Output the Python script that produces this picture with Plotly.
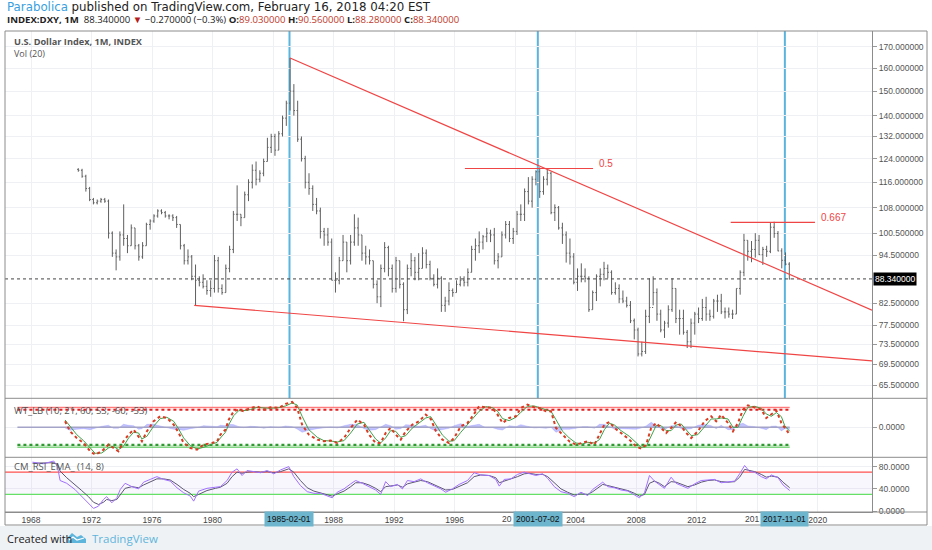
import numpy as np
import plotly.graph_objects as go

# ---- U.S. Dollar Index, quarterly bars (1971 Q1 .. 2018 Q1) ----
price_start = 1971.125
price_high = [
    120.7, 120.5, 118.5, 114.5,   # 1971
    111, 110.5, 111, 111,         # 1972
    110.5, 101, 96, 101,          # 1973
    109, 100, 103, 102,           # 1974
    97.5, 98, 103.5, 104.5,       # 1975
    106, 107.5, 107.5, 107,       # 1976
    106, 106, 105.5, 103,         # 1977
    97.5, 96, 94.5, 92,           # 1978
    89, 89.5, 88, 88,             # 1979
    94.5, 94, 87, 92,             # 1980
    97, 107, 115, 106,            # 1981
    113, 117, 122, 123,           # 1982
    120, 124, 131.5, 133,         # 1983
    133, 134, 140, 146,           # 1984
    164.7, 153, 146, 132,         # 1985
    125, 119, 115, 111,           # 1986
    108, 102, 102, 99,            # 1987
    90, 94, 100, 98,              # 1988
    100, 106, 105, 100,           # 1989
    97, 96, 93, 88,               # 1990
    92, 98, 97, 92,               # 1991
    94, 93, 87.5, 92,             # 1992
    95, 94, 95, 96.6,             # 1993
    96, 93, 89.5, 91,             # 1994
    89, 84, 87.5, 86,             # 1995
    88, 89, 89, 91,               # 1996
    97, 99, 101, 100,             # 1997
    102, 101.5, 102, 95,          # 1998
    101, 104, 104, 102,           # 1999
    107, 109, 114, 117.7,         # 2000
    118, 120, 121, 118,           # 2001
    120.7, 119.5, 109, 108.5,     # 2002
    103.5, 101, 99, 95,           # 2003
    91, 92.3, 91, 89,             # 2004
    85.5, 89.5, 91, 92.7,         # 2005
    92, 90.5, 87.5, 87,           # 2006
    85.5, 84, 83, 79,             # 2007
    77, 74, 81, 88.5,             # 2008
    89, 86, 81, 78.5,             # 2009
    82, 88.5, 86, 81,             # 2010
    81, 76.5, 79, 80.5,           # 2011
    81.5, 83.5, 84, 81,           # 2012
    83.5, 84.5, 84.7, 81.5,       # 2013
    81.5, 81, 86, 90.5,           # 2014
    100.3, 98.5, 98.3, 100.5,     # 2015
    100, 96.7, 97, 103.5,         # 2016
    103.8, 101.1, 96.3, 95.2,     # 2017
    92.6,                         # 2018
]
price_low = [
    119.5, 117.5, 113, 110,
    109, 109, 109.5, 109.5,
    99, 94, 90.5, 93,
    97, 95, 97, 96,
    93, 93.5, 97, 101.5,
    103.5, 105, 106, 105,
    104.5, 104, 102, 96,
    92, 92, 88, 82,
    86.5, 86, 84.5, 84,
    85, 85, 84.5, 85,
    90, 95, 104, 102.5,
    105, 110, 114, 115,
    116, 118, 123, 126,
    125, 127, 132, 136,
    142, 140, 130, 123,
    114, 112, 107, 106,
    99, 97, 97, 88,
    85, 87, 93, 90,
    92, 97, 97, 93,
    92, 92, 86, 82.5,
    81.6, 90, 89, 85,
    85, 86, 78.4, 80,
    89, 88, 88, 91,
    91, 88, 86.5, 86,
    80.5, 80.5, 82, 84,
    85, 86.5, 86.5, 86.5,
    90, 93, 95, 96,
    98, 98, 92, 91,
    94, 99, 98, 97.5,
    100, 104, 104, 109,
    108, 115, 111, 112,
    115, 106, 104, 101.5,
    97.5, 92.5, 92, 87,
    85.4, 87.5, 87.5, 80.5,
    81, 83, 86.5, 88,
    88.5, 84.5, 84.5, 82.5,
    82.5, 81.5, 78, 74.5,
    71, 71, 71.5, 78,
    82, 78.5, 76, 74.8,
    77, 80.5, 78, 75.5,
    75.5, 72.7, 72.7, 75.5,
    78, 78.5, 78.5, 78.5,
    79, 80.5, 80, 79,
    79.2, 78.9, 80, 84.5,
    89, 93, 92.6, 93.8,
    94.5, 91.9, 94, 95,
    99.2, 95.5, 91, 91.8,
    88.2,
]
price_close = [
    120, 118, 114, 110.5,
    109.5, 110, 110.5, 110,
    100.5, 95, 94, 100,
    99, 97, 102, 97,
    94, 97, 103, 104,
    105.5, 107, 106.5, 105.5,
    105.5, 105, 103, 97,
    93, 94, 89, 88,
    87.5, 86.5, 85.5, 86,
    93, 86, 85, 91,
    96, 106, 106, 105,
    112, 116, 120, 117,
    119, 123, 128, 132,
    127, 133, 139, 145,
    150, 142, 131, 124,
    116, 114, 109, 107,
    101, 100, 98, 88,
    88, 93, 98, 93,
    98, 102, 100, 95,
    94, 93, 87, 84,
    91, 96.5, 91, 86,
    93, 87, 81, 91,
    93, 90, 91, 95,
    92, 88.5, 87, 88.5,
    82, 83, 85.5, 85,
    87, 88, 87.5, 90,
    96, 97, 98, 99.5,
    100.5, 100, 93, 94,
    100, 103, 99, 101,
    106, 106, 113, 110,
    117, 119.5, 113, 117,
    119, 106.5, 108, 102,
    100, 95, 94, 87.5,
    89, 89, 88.5, 81,
    85, 89, 89.5, 91,
    90, 85, 86, 83.5,
    83, 82, 78.5, 76.5,
    71.5, 72, 79.5, 81.5,
    85, 80, 76.5, 78,
    81, 86, 79, 79,
    76, 74, 78, 80,
    79, 81.5, 80, 79.5,
    83, 83, 80.5, 80.5,
    80, 80, 86, 90,
    98.5, 95.5, 96, 98.5,
    94.6, 96, 95.5, 102.2,
    100.4, 95.6, 93.1, 92.1,
    88.34,
]
first_open = 120.3
last_price = 88.34

price_ticks = [170, 160, 150, 140, 132, 124, 116, 108, 100.5, 94.5, 82.5, 77.5, 73.5, 69.5, 65.5]
year_ticks = list(range(1968, 2021, 4))
hidden_years = [1984]                      # fully under a date box
partial_years = {2000: '20', 2016: '201'}  # half under a date box

# drawings on the price pane
trend_upper_x = [1985.12, 2023.59]
trend_upper_y = [164.7, 80.9]
trend_lower_x = [1978.79, 2023.59]
trend_lower_y = [82.0, 70.1]
fib_half_x = [1996.68, 2005.15]
fib_half_y = 120.6
fib_two_thirds_x = [2014.25, 2019.82]
fib_two_thirds_y = 103.6
cycle_labels = ['1985-02-01', '2001-07-02', '2017-11-01']
cycle_x = [1985.085, 2001.5, 2017.83]

# ---- WT_LB pane ----
wt_years = [
    1970.25, 1970.58, 1971.02, 1971.47, 1971.91, 1972.24, 1972.68, 1973.12, 1973.45, 1973.78,
    1974.11, 1974.45, 1974.78, 1975.11, 1975.33, 1975.66, 1976.10, 1976.54, 1976.98, 1977.43,
    1977.76, 1978.09, 1978.53, 1978.97, 1979.41, 1979.96, 1980.30, 1980.52, 1980.85, 1981.07,
    1981.40, 1981.73, 1982.06, 1982.50, 1982.94, 1983.39, 1983.83, 1984.38, 1984.82, 1985.26,
    1985.59, 1985.92, 1986.36, 1986.92, 1987.36, 1987.80, 1988.24, 1988.69, 1989.13, 1989.57,
    1990.01, 1990.34, 1990.78, 1991.11, 1991.44, 1991.77, 1992.11, 1992.44, 1992.77, 1993.21,
    1993.65, 1994.09, 1994.42, 1994.75, 1995.19, 1995.63, 1995.97, 1996.41, 1996.85, 1997.18,
    1997.62, 1998.06, 1998.50, 1998.84, 1999.17, 1999.61, 2000.05, 2000.38, 2000.82, 2001.26,
    2001.60, 2002.04, 2002.37, 2002.70, 2003.14, 2003.58, 2004.02, 2004.46, 2004.80, 2005.24,
    2005.57, 2005.90, 2006.23, 2006.56, 2007.00, 2007.55, 2007.99, 2008.33, 2008.66, 2008.99,
    2009.32, 2009.65, 2009.98, 2010.31, 2010.65, 2010.98, 2011.31, 2011.64, 2012.08, 2012.52,
    2012.96, 2013.29, 2013.62, 2014.07, 2014.40, 2014.73, 2015.06, 2015.39, 2015.83, 2016.27,
    2016.60, 2016.94, 2017.27, 2017.60, 2017.82, 2018.15,
]
wt1 = [
    18, -12, -32, -47, -72, -82, -72, -52, -62, -72,
    -42, -22, -7, -27, -42, -12, 18, 33, 28, 8,
    -17, -47, -62, -67, -52, -47, -42, -22, -7, 23,
    48, 53, 48, 58, 63, 53, 60, 58, 70, 76,
    58, 8, -22, -37, -42, -40, -47, -32, -2, 23,
    8, -22, -47, -47, -17, -2, -22, -37, -12, 8,
    18, 38, 25, -10, -37, -47, -32, 3, 13, 33,
    63, 60, 58, 38, 13, 28, 33, 58, 68, 60,
    58, 48, 48, -2, -22, -42, -52, -47, -42, -52,
    -22, 8, 16, -2, -17, -37, -57, -64, -52, -2,
    13, -2, -17, -2, 16, 3, -17, -32, -12, 18,
    33, 18, 38, 13, -12, 13, 53, 66, 60, 53,
    28, 38, 50, 13, -2, -22,
]
wt2 = [
    22, 3, -22, -40, -60, -78, -77, -62, -57, -67,
    -57, -32, -15, -17, -35, -27, 3, 26, 30, 18,
    -5, -32, -55, -65, -60, -50, -45, -32, -15, 8,
    35, 50, 50, 53, 60, 58, 57, 59, 64, 73,
    67, 33, -7, -30, -40, -41, -44, -40, -17, 10,
    15, -7, -35, -47, -32, -10, -12, -30, -25, -2,
    13, 28, 32, 8, -23, -42, -40, -15, 8, 23,
    48, 62, 59, 48, 26, 20, 30, 45, 63, 64,
    59, 53, 48, 23, -12, -32, -47, -50, -45, -47,
    -37, -7, 12, 7, -10, -27, -47, -60, -58, -27,
    5, 5, -10, -10, 7, 10, -7, -25, -22, 3,
    25, 25, 28, 25, 0, 0, 33, 60, 63, 57,
    40, 33, 44, 32, 5, -12,
]
wt_hist = [
    -2, -9, -6, -4, -7, -2, 3, 6, -3, -3,
    9, 6, 5, -6, -4, 9, 9, 4, -1, -6,
    -7, -9, -4, -1, 5, 2, 2, 6, 5, 9,
    8, 2, -1, 3, 2, -3, 2, -1, 4, 2,
    -5, -15, -9, -4, -1, 1, -2, 5, 9, 8,
    -4, -9, -7, 0, 9, 5, -6, -4, 8, 6,
    3, 6, -4, -11, -8, -3, 5, 11, 3, 6,
    9, -1, -1, -6, -8, 5, 2, 8, 3, -2,
    -1, -3, 0, -15, -6, -6, -3, 2, 2, -3,
    9, 9, 2, -5, -4, -6, -6, -2, 4, 15,
    5, -4, -4, 5, 5, -4, -6, -4, 6, 9,
    5, -4, 6, -7, -7, 8, 12, 4, 2, -2,
    -7, 3, 4, -11, -4, -6,
]
wt_span = [1967.1, 2018.15]
wt_ob = [60, 53]
wt_os = [-53, -60]

# ---- CM_RSI_EMA pane ----
rsi_years = [
    1968.1, 1968.8, 1969.5, 1969.75, 1969.92, 1970.36, 1970.9, 1971.35, 1971.8, 1972.13,
    1972.46, 1972.79, 1973.0, 1973.34, 1973.67, 1973.9, 1974.22, 1974.67, 1975.11, 1975.44,
    1975.88, 1976.32, 1976.76, 1977.2, 1977.65, 1978.09, 1978.53, 1978.75, 1979.08, 1979.63,
    1980.19, 1980.52, 1980.96, 1981.29, 1981.62, 1981.95, 1982.28, 1982.72, 1983.17, 1983.61,
    1984.05, 1984.49, 1985.04, 1985.37, 1985.81, 1986.26, 1986.7, 1987.14, 1987.58, 1987.91,
    1988.24, 1988.69, 1989.13, 1989.46, 1989.9, 1990.34, 1990.78, 1991.11, 1991.44, 1991.77,
    1992.22, 1992.55, 1992.88, 1993.32, 1993.76, 1994.2, 1994.64, 1995.09, 1995.41, 1995.85,
    1996.3, 1996.85, 1997.29, 1997.73, 1998.28, 1998.72, 1998.95, 1999.28, 1999.72, 2000.16,
    2000.6, 2000.93, 2001.37, 2001.82, 2002.15, 2002.59, 2003.03, 2003.47, 2003.91, 2004.35,
    2004.8, 2005.13, 2005.46, 2005.79, 2006.12, 2006.56, 2007.0, 2007.45, 2007.89, 2008.22,
    2008.55, 2008.88, 2009.21, 2009.54, 2009.87, 2010.31, 2010.64, 2010.98, 2011.42, 2011.86,
    2012.3, 2012.74, 2013.18, 2013.62, 2014.07, 2014.51, 2014.84, 2015.17, 2015.5, 2015.83,
    2016.27, 2016.6, 2016.94, 2017.38, 2017.71, 2018.15,
]
rsi = [
    88, 85, 90, 80, 55, 50, 39, 27, 15, 5,
    9, 21, 26, 15, 24, 39, 50, 44, 40, 52,
    57, 62, 57, 54, 42, 33, 27, 18, 36, 41,
    43, 44, 55, 70, 76, 64, 73, 71, 69, 73,
    67, 74, 80, 62, 46, 35, 32, 32, 27, 24,
    34, 40, 49, 55, 50, 44, 38, 30, 53, 44,
    48, 40, 55, 53, 58, 51, 45, 40, 34, 40,
    48, 55, 69, 65, 64, 57, 45, 57, 58, 66,
    70, 67, 64, 67, 59, 44, 35, 32, 26, 34,
    28, 39, 46, 52, 44, 42, 38, 36, 29, 24,
    33, 64, 54, 47, 41, 61, 50, 46, 41, 49,
    55, 56, 57, 51, 52, 54, 67, 82, 71, 70,
    62, 58, 65, 60, 47, 37,
]
rsi_ema = [
    86, 86, 87, 84, 72, 60, 48, 37, 26, 16,
    12, 16, 21, 19, 21, 30, 41, 44, 42, 47,
    53, 58, 58, 56, 48, 39, 32, 26, 30, 37,
    41, 43, 50, 62, 70, 68, 70, 71, 70, 71,
    69, 71, 76, 70, 55, 42, 36, 33, 29, 27,
    31, 36, 44, 51, 51, 47, 41, 35, 44, 45,
    47, 43, 49, 52, 55, 53, 48, 43, 38, 39,
    44, 51, 62, 65, 64, 60, 51, 54, 57, 62,
    67, 68, 66, 66, 62, 51, 40, 34, 29, 31,
    30, 35, 42, 48, 46, 43, 40, 37, 32, 27,
    30, 50, 54, 50, 44, 53, 52, 48, 44, 47,
    52, 55, 56, 53, 52, 53, 61, 75, 73, 71,
    66, 61, 63, 61, 52, 42,
]
rsi_upper = 70
rsi_lower = 30

x_range = [1966.28, 2023.59]


# pixel -> paper helpers (plot area is x 5..872, y 31..512)
def px(x):
    return (x - 5) / 867


def py(y):
    return (512 - y) / 481


price_x = [price_start + 0.25 * i for i in range(len(price_close))]
price_open = [first_open] + price_close[:-1]

fig = go.Figure()

# price bars
fig.add_trace(go.Ohlc(
    x=price_x, open=price_open, high=price_high, low=price_low, close=price_close,
    increasing=dict(line=dict(color='#5f5f5f', width=1)),
    decreasing=dict(line=dict(color='#5f5f5f', width=1)),
    tickwidth=0.3, xaxis='x', yaxis='y', hoverinfo='skip',
))

# last price dotted line
fig.add_trace(go.Scatter(x=x_range, y=[last_price, last_price], mode='lines',
                         line=dict(color='#444', width=1, dash='dot'), yaxis='y'))

# trendlines and fib levels
red = '#f04545'
for xs, ys in [(trend_upper_x, trend_upper_y), (trend_lower_x, trend_lower_y),
               (fib_half_x, [fib_half_y] * 2), (fib_two_thirds_x, [fib_two_thirds_y] * 2)]:
    fig.add_trace(go.Scatter(x=xs, y=ys, mode='lines', line=dict(color=red, width=1.2), yaxis='y'))

# WT pane
fig.add_trace(go.Scatter(x=wt_years, y=wt_hist, mode='lines', fill='tozeroy',
                         fillcolor='rgba(120,120,255,0.45)', line=dict(color='rgba(120,120,255,0.5)', width=0.5),
                         yaxis='y2'))
fig.add_trace(go.Scatter(x=wt_span, y=[0, 0], mode='lines', line=dict(color='#a4a4c8', width=1.5), yaxis='y2'))
fig.add_trace(go.Scatter(x=wt_span, y=[wt_ob[0]] * 2, mode='lines', line=dict(color='#ff6060', width=1), yaxis='y2'))
fig.add_trace(go.Scatter(x=wt_span, y=[wt_ob[1]] * 2, mode='lines', fill='tonexty',
                         fillcolor='rgba(255,90,90,0.15)', line=dict(color='#e02020', width=2, dash='dot'), yaxis='y2'))
fig.add_trace(go.Scatter(x=wt_span, y=[wt_os[0]] * 2, mode='lines', line=dict(color='#2f9a2f', width=2.2, dash='dot'), yaxis='y2'))
fig.add_trace(go.Scatter(x=wt_span, y=[wt_os[1]] * 2, mode='lines', fill='tonexty',
                         fillcolor='rgba(60,170,60,0.25)', line=dict(color='#6c6', width=1), yaxis='y2'))
fig.add_trace(go.Scatter(x=wt_years, y=wt2, mode='lines', line=dict(color='#3fa14a', width=1), yaxis='y2'))
fig.add_trace(go.Scatter(x=wt_years, y=wt1, mode='lines', line=dict(color='#d93a22', width=2, dash='dot'), yaxis='y2'))

# RSI pane
fig.add_trace(go.Scatter(x=x_range, y=[rsi_upper] * 2, mode='lines', line=dict(color='#ff5050', width=1.2), yaxis='y3'))
fig.add_trace(go.Scatter(x=x_range, y=[rsi_lower] * 2, mode='lines', fill='tonexty',
                         fillcolor='rgba(160,120,230,0.06)', line=dict(color='#66e066', width=1.2), yaxis='y3'))
fig.add_trace(go.Scatter(x=rsi_years, y=rsi_ema, mode='lines', line=dict(color='#5c5672', width=1), yaxis='y3'))
fig.add_trace(go.Scatter(x=rsi_years, y=rsi, mode='lines', line=dict(color='#a070ff', width=1), yaxis='y3'))

axis_font = dict(family='Liberation Sans', size=8.5, color='#555')
grid = '#eef0f4'
frame = '#8c8c8c'

shapes = []
# cycle lines on price pane (under the bars)
for cx in cycle_x:
    shapes.append(dict(type='line', xref='x', yref='y domain', x0=cx, x1=cx, y0=0, y1=1,
                       line=dict(color='#5ab4dd', width=2), layer='below'))
# pane separators + frame
for yy in [398.3, 457.3]:
    shapes.append(dict(type='line', xref='paper', yref='paper', x0=0, x1=px(927), y0=py(yy), y1=py(yy),
                       line=dict(color=frame, width=1)))
shapes.append(dict(type='line', xref='paper', yref='paper', x0=0, x1=px(927), y0=0, y1=0,
                   line=dict(color=frame, width=1)))
shapes.append(dict(type='rect', xref='paper', yref='paper', x0=0, x1=px(927), y0=py(525), y1=1,
                   line=dict(color=frame, width=1)))
# footer background
shapes.append(dict(type='rect', xref='paper', yref='paper', x0=px(0), x1=px(932), y0=py(550), y1=py(526),
                   fillcolor='#eff2f5', line=dict(width=0), layer='below'))
# TradingView cloud logo (rough)
logo = 'M {} {} L {} {} L {} {} L {} {} L {} {} L {} {} L {} {} Z'.format(
    px(67), py(543), px(86), py(543), px(86), py(539), px(81), py(535),
    px(77), py(537), px(72), py(533), px(67), py(538))
shapes.append(dict(type='path', xref='paper', yref='paper', path=logo,
                   fillcolor='#5eb5dc', line=dict(width=0)))
zig = 'M {} {} L {} {} L {} {} L {} {}'.format(px(69), py(540), px(73), py(537), px(77), py(540), px(84), py(538))
shapes.append(dict(type='path', xref='paper', yref='paper', path=zig, line=dict(color='white', width=1.2)))

val_red = '#c0392b'
header2 = (
    "<b>INDEX:DXY, 1M</b>  88.340000 <span style='color:#b71c1c'>▼</span> −0.270000 (−0.3%) "
    f"<b>O:</b><span style='color:{val_red}'>89.030000</span> "
    f"<b>H:</b><span style='color:{val_red}'>90.560000</span> "
    f"<b>L:</b><span style='color:{val_red}'>88.280000</span> "
    f"<b>C:</b><span style='color:{val_red}'>88.340000</span>"
)

annotations = [
    dict(x=0, y=py(7.5), xref='paper', yref='paper', xanchor='left', yanchor='middle', showarrow=False,
         text="<span style='color:#3a9fe0'>Parabolica</span> published on TradingView.com, February 16, 2018 04:20 EST",
         font=dict(family='DejaVu Sans', size=11.8, color='#222')),
    dict(x=0, y=py(20), xref='paper', yref='paper', xanchor='left', yanchor='middle', showarrow=False,
         text=header2, font=dict(family='Open Sans', size=9.6, color='#222')),
    dict(x=px(12), y=py(41), xref='paper', yref='paper', xanchor='left', yanchor='middle', showarrow=False,
         text='<b>U.S. Dollar Index, 1M, INDEX</b>', font=dict(family='Open Sans', size=9.2, color='#555')),
    dict(x=px(12), y=py(53.5), xref='paper', yref='paper', xanchor='left', yanchor='middle', showarrow=False,
         text='Vol (20)', font=dict(family='Open Sans', size=9, color='#555')),
    dict(x=px(12), y=py(410), xref='paper', yref='paper', xanchor='left', yanchor='middle', showarrow=False,
         text='WT_LB (10, 21, 60, 53, -60, -53)', font=dict(family='Open Sans', size=9.5, color='#555')),
    dict(x=px(12), y=py(466), xref='paper', yref='paper', xanchor='left', yanchor='middle', showarrow=False,
         text='CM_RSI_EMA_ (14, 8)', font=dict(family='Open Sans', size=9.5, color='#555')),
    dict(x=fib_half_x[1], y=np.log10(fib_half_y), xref='x', yref='y', xanchor='left', yanchor='middle',
         xshift=4, yshift=5, showarrow=False, text='0.5', font=dict(family='Liberation Sans', size=10, color=red)),
    dict(x=fib_two_thirds_x[1], y=np.log10(fib_two_thirds_y), xref='x', yref='y', xanchor='left', yanchor='middle',
         xshift=4, yshift=5, showarrow=False, text='0.667', font=dict(family='Liberation Sans', size=10, color=red)),
    dict(x=1, y=np.log10(last_price), xref='paper', yref='y', xanchor='left', yanchor='middle', xshift=1,
         showarrow=False, text='%.6f' % last_price, bgcolor='#000', borderpad=1,
         font=dict(family='Liberation Sans', size=8.5, color='white')),
    dict(x=0, y=py(538), xref='paper', yref='paper', xanchor='left', yanchor='middle', showarrow=False,
         text='Created with', font=dict(family='Open Sans', size=11, color='#222')),
    dict(x=px(90), y=py(538), xref='paper', yref='paper', xanchor='left', yanchor='middle', showarrow=False,
         text='TradingView', font=dict(family='Open Sans', size=11.5, color='#5eb5dc')),
]
# date boxes on the time axis, with the half-covered year labels beside them
box_left = {2000: 514, 2016: 761}
for yr, txt in partial_years.items():
    annotations.append(dict(x=px(box_left[yr]), y=py(519), xref='paper', yref='paper', xanchor='right',
                            yanchor='middle', showarrow=False, text=txt,
                            font=dict(family='Liberation Sans', size=8.5, color='#444')))
for lab, cx in zip(cycle_labels, cycle_x):
    annotations.append(dict(x=cx, y=py(518.5), xref='x', yref='paper', xanchor='center', yanchor='middle',
                            showarrow=False, text=lab, bgcolor='#6db5cd', borderpad=2,
                            font=dict(family='Liberation Sans', size=8.5, color='#111')))

year_text = ['' if (y in hidden_years or y in partial_years) else str(y) for y in year_ticks]

yaxis_common = dict(side='right', anchor='x', ticks='outside', ticklen=4, tickcolor='#999',
                    tickfont=axis_font, showgrid=True, gridcolor=grid, showline=True,
                    linecolor=frame, zeroline=False, fixedrange=True)

fig.update_layout(
    width=932, height=550,
    margin=dict(l=5, r=60, t=31, b=38),
    paper_bgcolor='white', plot_bgcolor='white',
    showlegend=False,
    xaxis=dict(range=x_range, anchor='y3', tickvals=year_ticks, ticktext=year_text,
               tickfont=dict(family='Liberation Sans', size=8.5, color='#444'),
               showgrid=True, gridcolor=grid, showline=True, linecolor=frame, zeroline=False,
               ticks='', rangeslider=dict(visible=False), fixedrange=True),
    yaxis=dict(domain=[py(398.3), 1], type='log', range=[1.8000, 2.2497],
               tickvals=price_ticks, ticktext=['%.6f' % v for v in price_ticks], **yaxis_common),
    yaxis2=dict(domain=[py(457.3), py(398.3)], range=[-90, 87],
                tickvals=[0], ticktext=['0.0000'], **yaxis_common),
    yaxis3=dict(domain=[0, py(457.3)], range=[-1.5, 96.7],
                tickvals=[0, 40, 80], ticktext=['0.0000', '40.0000', '80.0000'], **yaxis_common),
    shapes=shapes,
    annotations=annotations,
)

fig.write_html("out.html", config={'displayModeBar': False},
               post_script="document.body.style.margin='0';document.body.style.padding='0';")
